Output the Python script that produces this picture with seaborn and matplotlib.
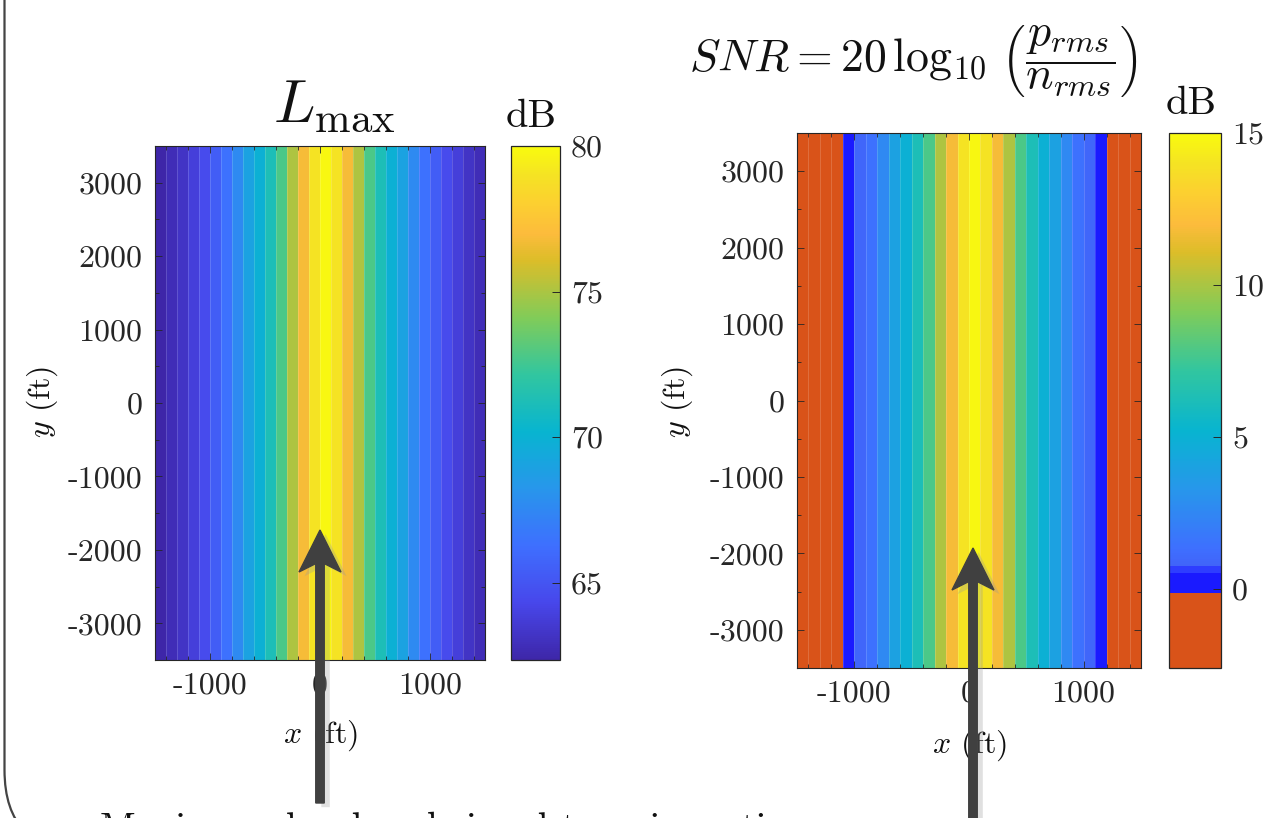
import numpy as np
import pandas as pd
import matplotlib
matplotlib.use("Agg")
import matplotlib.pyplot as plt
import seaborn as sns
import matplotlib.patheffects as pe
from matplotlib.colors import LinearSegmentedColormap, ListedColormap
from matplotlib.patches import FancyArrow, FancyBboxPatch

# stripe centres along x (ft), each stripe 100 ft wide
x_ft = [-1450, -1350, -1250, -1150, -1050, -950, -850, -750, -650, -550,
        -450, -350, -250, -150, -50, 50, 150, 250, 350, 450,
        550, 650, 750, 850, 950, 1050, 1150, 1250, 1350, 1450]

# values (dB)
lmax_db = [62.4, 62.8, 63.2, 63.8, 64.5, 65.4, 66.4, 67.6, 69.0, 69.9,
           71.2, 72.8, 75.1, 76.8, 79.0, 79.8, 79.0, 76.8, 75.1, 72.8,
           71.2, 69.9, 69.0, 67.6, 66.4, 65.4, 64.5, 63.8, 63.2, 62.8]
snr_db = [-2.5, -2.1, -1.7, -1.2, 0.1, 0.9, 1.4, 2.6, 4.0, 4.9,
          6.2, 7.8, 10.1, 11.8, 14.0, 14.8, 14.0, 11.8, 10.1, 7.8,
          6.2, 4.9, 4.0, 2.6, 1.4, 0.9, 0.1, -1.2, -1.7, -2.1]

x_ticks = [-1000, 0, 1000]
y_ticks = [3000, 2000, 1000, 0, -1000, -2000, -3000]
lmax_cbar_ticks = [65, 70, 75, 80]
snr_cbar_ticks = [0, 5, 10, 15]

x_lim = (-1500, 1500)
y_lim = (-3500, 3500)
lmax_range = (62.35, 80.0)
snr_range = (-2.6, 15.0)

plt.rcParams['font.family'] = 'cmr10'
plt.rcParams['mathtext.fontset'] = 'cm'
plt.rcParams['axes.formatter.use_mathtext'] = True
plt.rcParams['axes.unicode_minus'] = False

# MATLAB-like parula
parula = LinearSegmentedColormap.from_list("parula", [
    (0.000, (0.2422, 0.1504, 0.6603)),
    (0.111, (0.2803, 0.2782, 0.9221)),
    (0.222, (0.2440, 0.4358, 0.9988)),
    (0.333, (0.1540, 0.5902, 0.9218)),
    (0.444, (0.0297, 0.7082, 0.8163)),
    (0.556, (0.1938, 0.7758, 0.6251)),
    (0.667, (0.5044, 0.7993, 0.3480)),
    (0.778, (0.8634, 0.7406, 0.1596)),
    (0.830, (0.9900, 0.7350, 0.2350)),
    (0.889, (0.9892, 0.8136, 0.1885)),
    (0.944, (0.9600, 0.8900, 0.1400)),
    (1.000, (0.9763, 0.9831, 0.0538)),
], N=256)

# SNR map: parula with a blue band near 0 and orange below it
lv = np.linspace(snr_range[0], snr_range[1], 512)
snr_cols = parula((lv - snr_range[0]) / (snr_range[1] - snr_range[0]))
snr_cols[lv < 0.75] = (0.18, 0.24, 1.0, 1.0)
snr_cols[lv < 0.5] = (0.10, 0.10, 1.0, 1.0)
snr_cols[lv < -0.15] = (0.851, 0.325, 0.098, 1.0)
snr_cmap = ListedColormap(snr_cols)

W, H = 1267, 818
fig = plt.figure(figsize=(W / 100, H / 100), dpi=100)
ink = '#262626'
fs = 23


def px_rect(x0, y0, x1, y1):
    return [x0 / W, 1 - y1 / H, (x1 - x0) / W, (y1 - y0) / H]


def fx(v):
    return (v - x_lim[0]) / 100


def fy(v):
    return (y_lim[1] - v) / (y_lim[1] - y_lim[0])


def draw_panel(rect, cbar_rect, values, cmap, vrange, cbar_ticks):
    ax = fig.add_axes(rect)
    cax = fig.add_axes(cbar_rect)
    df = pd.DataFrame([values], columns=x_ft)
    sns.heatmap(df, ax=ax, cbar_ax=cax, cmap=cmap, vmin=vrange[0], vmax=vrange[1],
                xticklabels=False, yticklabels=False,
                linewidths=0.6, linecolor=(1, 1, 1, 0.16))
    ax.set_xticks([fx(v) for v in x_ticks])
    ax.set_xticklabels([str(v) for v in x_ticks])
    ax.set_yticks([fy(v) for v in y_ticks])
    ax.set_yticklabels([str(v) for v in y_ticks], rotation=0)
    ax.set_xticks([fx(v) for v in range(-1400, 1500, 200)], minor=True)
    ax.set_yticks([fy(v) for v in range(-3500, 3501, 500)], minor=True)
    ax.set_xlabel('')
    ax.set_ylabel('')
    ax.tick_params(which='both', direction='in', top=True, right=True,
                   color=ink, width=0.6, labelsize=fs, labelcolor=ink, pad=9)
    ax.tick_params(which='major', length=5)
    ax.tick_params(which='minor', length=3)
    for s in ax.spines.values():
        s.set_visible(True)
        s.set_linewidth(0.8)
        s.set_color(ink)
    cbar = ax.collections[0].colorbar
    cbar.set_ticks(cbar_ticks)
    cbar.set_ticklabels([str(v) for v in cbar_ticks])
    cbar.ax.tick_params(direction='in', length=6, width=0.7, color=ink,
                        labelsize=fs, labelcolor=ink, pad=8)
    cbar.outline.set_linewidth(0.9)
    cbar.outline.set_edgecolor(ink)
    return ax


draw_panel(px_rect(155, 146, 485, 660), px_rect(511, 146, 560, 660),
           lmax_db, parula, lmax_range, lmax_cbar_ticks)
draw_panel(px_rect(797, 133, 1141, 668), px_rect(1169, 133, 1221, 668),
           snr_db, snr_cmap, snr_range, snr_cbar_ticks)


def ftext(x, y, s, **kw):
    fig.text(x / W, 1 - y / H, s, ha='center', va='center', color='#111111', **kw)


ftext(334, 106, r'$L_{\max}$', fontsize=44)
ftext(913, 61, r'$SNR = 20\,\log_{10}\,\left(\dfrac{p_{rms}}{n_{rms}}\right)$', fontsize=33)
ftext(531, 117, 'dB', fontsize=29)
ftext(1191, 104, 'dB', fontsize=29)
ftext(42, 402, r'$y$ (ft)', fontsize=fs, rotation=90)
ftext(677, 402, r'$y$ (ft)', fontsize=fs, rotation=90)
ftext(320, 735, r'$x$ (ft)', fontsize=fs)
ftext(969, 745, r'$x$ (ft)', fontsize=fs)

# caption line running off the bottom of the slide
fig.text(100 / W, 1 - 840 / H, 'Maximum level and signal-to-noise ratio maps',
         ha='left', va='baseline', fontsize=28, color='#111111')

# slide frame (rounded corner at bottom left)
frame = FancyBboxPatch((4.5 / 100, -34 / 100), 20, 20,
                       boxstyle='round,pad=0,rounding_size=0.82',
                       transform=fig.dpi_scale_trans, fill=False,
                       ec='#444444', lw=1.6, clip_on=False)
fig.add_artist(frame)


def slide_arrow(x_px, y0_px, y1_px):
    a = FancyArrow(x_px / 100, (H - y0_px) / 100, 0, (y0_px - y1_px) / 100,
                   width=0.085, head_width=0.42, head_length=0.42,
                   length_includes_head=True, overhang=0.2,
                   transform=fig.dpi_scale_trans, color='#404040', zorder=10)
    a.set_path_effects([pe.SimplePatchShadow(offset=(4, -3), shadow_rgbFace='#999999', alpha=0.3),
                        pe.Normal()])
    fig.add_artist(a)


slide_arrow(320, 803, 530)
slide_arrow(973, 840, 548)

fig.savefig('out.png', dpi=100)
